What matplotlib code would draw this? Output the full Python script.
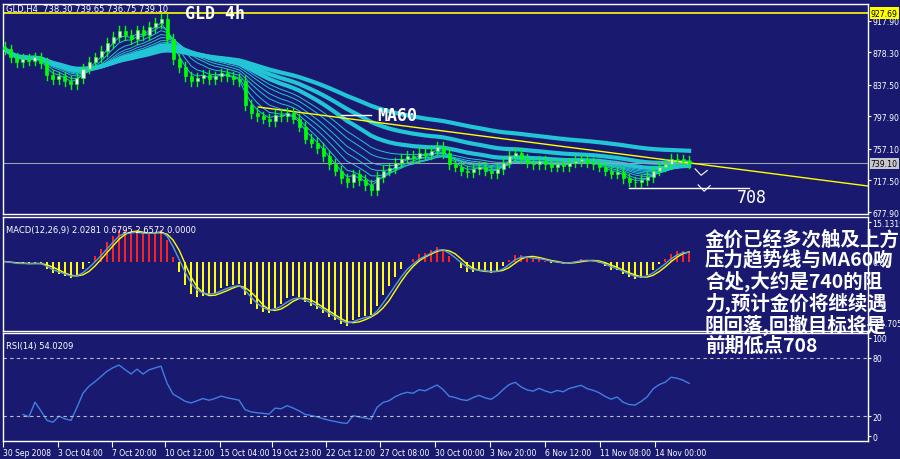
import numpy as np
import pandas as pd
import matplotlib
matplotlib.use("Agg")
import matplotlib.pyplot as plt

plt.rcParams['font.family'] = ['DejaVu Sans']

# ---- data ----
closes = [882, 872, 866, 870, 868, 872, 865, 850, 845, 848, 842, 838, 846, 858, 866, 872, 880, 890, 898, 905,
          900, 895, 906, 900, 910, 915, 920, 895, 870, 860, 848, 842, 846, 850, 845, 848, 852, 848, 845, 842,
          812, 802, 798, 795, 792, 800, 798, 802, 795, 785, 770, 765, 758, 748, 738, 730, 720, 715, 725, 718,
          712, 705, 722, 730, 733, 740, 745, 748, 746, 752, 750, 755, 760, 752, 738, 735, 730, 728, 732, 735,
          730, 727, 732, 740, 748, 752, 745, 740, 738, 742, 738, 735, 738, 736, 740, 742, 744, 740, 738, 735,
          730, 726, 728, 720, 716, 715, 718, 722, 730, 735, 738, 745, 744, 742, 739]
x_labels = ["30 Sep 2008", "3 Oct 04:00", "7 Oct 20:00", "10 Oct 12:00", "15 Oct 04:00", "19 Oct 23:00",
            "22 Oct 12:00", "27 Oct 08:00", "30 Oct 00:00", "3 Nov 20:00", "6 Nov 12:00", "11 Nov 08:00",
            "14 Nov 00:00"]
x_label_pos = [-0.3, 8.8, 17.8, 26.7, 35.8, 44.5, 53.5, 62.5, 71.7, 80.8, 90, 99.2, 108.3]
price_ticks = [917.90, 878.30, 837.50, 797.90, 757.10, 717.50, 677.90]
high_level = 927.69
last_price = 739.10
trend_x = [42.2, 143.8]
trend_y = [809.7, 710.5]
target_x = [104, 124]
target_y = [708, 708]
ma_spans_thin = [3, 5, 8, 11, 14, 18, 22]
ma_spans_thick = [30, 45, 90]
cn_text = "金价已经多次触及上方\n压力趋势线与MA60吻\n合处,大约是740的阻\n力,预计金价将继续遇\n阻回落,回撤目标将是\n前期低点708"

BG = '#191970'
W, H = 900, 460
fig = plt.figure(figsize=(9, 4.6), dpi=100, facecolor=BG)
FS = 5.6

def ax_at(x0, y0, x1, y1):
    a = fig.add_axes([x0 / W, 1 - y1 / H, (x1 - x0) / W, (y1 - y0) / H], facecolor=BG)
    for s in a.spines.values():
        s.set_color('white'); s.set_linewidth(1)
    a.tick_params(colors='white', labelsize=FS, length=2, pad=1, direction='out')
    a.set_xticks([])
    a.yaxis.tick_right()
    return a

xlim = (-0.33, 143.8)
c = np.array(closes, float)
n = len(c)
idx = np.arange(n)
s = pd.Series(c)

# ---- main price panel ----
ax = ax_at(3, 5, 868, 215)
ax.set_xlim(*xlim)
ax.set_ylim(675.4, 939.0)
opens = np.r_[c[0] + 3, c[:-1]]
for i in range(n):
    o, cl = opens[i], c[i]
    lo, hi = min(o, cl), max(o, cl)
    ax.plot([i, i], [lo - 6, hi + 6], color='#00ff00', lw=1, zorder=3)
    ax.bar(i, max(hi - lo, 1), bottom=lo, width=0.5,
           color='white' if cl >= o else '#00ff00', edgecolor='#00ff00', lw=0.5, zorder=4)
for sp in ma_spans_thin:
    ax.plot(idx, s.ewm(span=sp).mean(), color='#22c5d5', lw=0.7, zorder=2)
for sp in ma_spans_thick:
    ax.plot(idx, s.ewm(span=sp).mean(), color='#22c5d5', lw=3, zorder=2)
ax.axhline(high_level, color='yellow', lw=1.2)
ax.axhline(last_price, color='#a0a0b0', lw=0.8)
ax.plot(trend_x, trend_y, color='yellow', lw=1)
ax.plot([56, 61], [800, 800], color='white', lw=1)
ax.text(62, 800, "MA60", color='white', fontsize=12, fontweight='bold', family='DejaVu Sans Mono', va='center')
ax.text(30, 928, "GLD 4h", color='white', fontsize=12, fontweight='bold', family='DejaVu Sans Mono', va='center')
ax.text(0.2, 933, "GLD,H4  738.30 739.65 736.75 739.10", color='white', fontsize=6, va='center')
ax.plot(target_x, target_y, color='white', lw=1)
ax.text(122, 697, "708", color='white', fontsize=12, family='DejaVu Sans Mono', va='center')
ax.plot([115, 116, 117], [732, 724, 730], color='white', lw=0.8)
ax.plot([115.5, 116.5, 117.5], [712, 704, 711], color='white', lw=0.8)
ax.set_yticks(price_ticks)
ax.set_yticklabels([f"{v:.2f}" for v in price_ticks])
ax.text(1.003, high_level, f"{high_level:.2f}", transform=ax.get_yaxis_transform(), fontsize=FS,
        color='black', va='center', bbox=dict(facecolor='yellow', edgecolor='none', pad=0.8))
ax.text(1.003, last_price, f"{last_price:.2f}", transform=ax.get_yaxis_transform(), fontsize=FS,
        color='black', va='center', bbox=dict(facecolor='#c8c8d0', edgecolor='none', pad=0.8))

# ---- MACD panel ----
ax2 = ax_at(3, 218, 868, 332)
ax2.set_xlim(*xlim)
macd = s.ewm(span=6).mean() - s.ewm(span=13).mean()
sig = macd.rolling(4, min_periods=1).mean()
ax2.bar(idx, macd, width=0.35, color=np.where(macd >= 0, '#ff2020', '#ffff00'))
ax2.plot(idx, sig, color='yellow', lw=1)
ax2.plot(idx, macd.ewm(span=3).mean(), color='#5f9ed0', lw=1)
top, bot = macd.max() * 1.4, macd.min() * 1.08
ax2.set_ylim(bot, top)
ax2.set_yticks([top * 0.88, 0, bot * 0.88])
ax2.set_yticklabels(["15.1319", "0.00", "-14.7055"])
ax2.text(0.003, 0.93, "MACD(12,26,9) 2.0281 0.6795 2.6572 0.0000", transform=ax2.transAxes,
         color='white', fontsize=6, va='top')

# ---- RSI panel ----
ax3 = ax_at(3, 334, 868, 442)
ax3.set_xlim(*xlim)
d = s.diff()
up = d.clip(lower=0).ewm(alpha=1 / 14).mean()
dn = (-d.clip(upper=0)).ewm(alpha=1 / 14).mean()
rsi = 100 - 100 / (1 + up / dn.replace(0, 1e-9))
ax3.plot(idx[3:], rsi[3:], color='#3f7fe0', lw=1)
ax3.set_ylim(-5, 105)
for lv in (80, 20):
    ax3.axhline(lv, color='#c0c0c0', lw=0.8, ls=(0, (3, 3)))
ax3.set_yticks([100, 80, 20, 0])
ax3.text(0.003, 0.93, "RSI(14) 54.0209", transform=ax3.transAxes, color='white', fontsize=6, va='top')
ax3.set_xticks(x_label_pos)
ax3.set_xticklabels(x_labels, ha='left')
ax3.tick_params(axis='x', colors='white', labelsize=5.5, length=4)

fig.text(705 / W, 1 - 230 / H, cn_text, color='white', fontsize=14, fontweight='bold',
         family=['Noto Sans CJK SC', 'DejaVu Sans'], va='top', ha='left', linespacing=1.05, zorder=10)

fig.savefig("out.png", dpi=100, facecolor=BG)
